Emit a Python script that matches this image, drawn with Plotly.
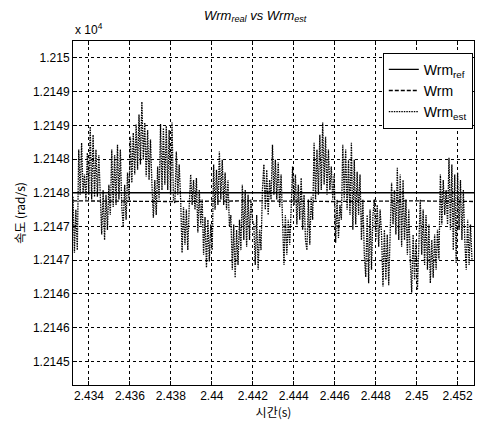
import numpy as np
import plotly.graph_objects as go

# ---- data ----
t_start, t_end = 2.43322, 2.45270

wrm_ref_t = [2.43322, 2.45280]
wrm_ref_v = [12148.0, 12148.0]

wrm_t = [2.43322, 2.4380, 2.4420, 2.4460, 2.4500, 2.45280]
wrm_v = [12147.88, 12147.87, 12147.88, 12147.87, 12147.88, 12147.87]

wrm_est_v = [
    12147.94, 12147.11, 12147.75, 12147.15, 12148.64, 12147.97, 12148.74, 12148.00,
    12148.27, 12147.90, 12148.59, 12147.97, 12148.98, 12147.90, 12148.86, 12147.94,
    12148.64, 12147.94, 12148.56, 12147.90, 12147.38, 12148.04, 12147.30, 12147.97,
    12147.45, 12148.12, 12147.67, 12148.64, 12147.79, 12148.56, 12147.82, 12148.71,
    12147.90, 12148.64, 12147.79, 12147.50, 12148.12, 12147.60, 12148.30, 12147.90,
    12148.83, 12148.15, 12148.89, 12148.27, 12149.01, 12148.34, 12149.16, 12148.42,
    12149.35, 12148.49, 12149.04, 12148.24, 12148.93, 12148.19, 12148.79, 12148.12,
    12147.63, 12148.19, 12147.67, 12148.39, 12147.90, 12149.02, 12148.04, 12148.96,
    12148.12, 12148.99, 12148.04, 12148.93, 12147.97, 12149.04, 12147.90, 12147.85,
    12148.61, 12147.97, 12148.42, 12147.90, 12147.11, 12147.79, 12147.23, 12147.75,
    12147.15, 12147.82, 12148.27, 12147.82, 12148.19, 12147.75, 12148.22, 12147.41,
    12148.04, 12147.53, 12147.90, 12147.08, 12147.64, 12146.89, 12147.60, 12146.98,
    12147.53, 12147.15, 12148.42, 12147.75, 12148.34, 12147.82, 12148.61, 12147.90,
    12148.49, 12147.82, 12148.30, 12147.75, 12148.19, 12147.50, 12147.67, 12146.86,
    12147.53, 12146.74, 12147.45, 12146.93, 12147.60, 12147.15, 12148.12, 12147.30,
    12148.04, 12147.20, 12147.97, 12147.30, 12147.90, 12147.60, 12147.53, 12146.93,
    12147.67, 12146.86, 12147.45, 12147.15, 12148.04, 12148.42, 12147.75, 12148.34,
    12147.67, 12148.19, 12147.90, 12148.71, 12147.97, 12148.49, 12147.90, 12148.45,
    12147.79, 12148.27, 12147.67, 12146.93, 12147.67, 12147.08, 12147.60, 12147.23,
    12147.75, 12148.39, 12147.82, 12148.27, 12147.53, 12148.12, 12147.60, 12148.22,
    12147.45, 12147.97, 12147.30, 12147.15, 12147.90, 12147.23, 12147.94, 12147.60,
    12148.74, 12147.90, 12148.64, 12147.97, 12148.86, 12148.04, 12149.04, 12148.12,
    12148.83, 12147.97, 12148.64, 12148.04, 12148.39, 12147.90, 12148.27, 12147.26,
    12147.90, 12147.33, 12147.82, 12147.60, 12148.71, 12147.90, 12148.64, 12147.75,
    12148.49, 12147.67, 12148.74, 12147.45, 12148.49, 12147.53, 12148.31, 12147.67,
    12148.27, 12147.30, 12147.90, 12147.08, 12146.75, 12147.67, 12146.66, 12147.75,
    12146.86, 12147.67, 12147.90, 12147.30, 12147.82, 12147.20, 12147.75, 12147.38,
    12146.61, 12147.45, 12146.71, 12147.38, 12146.63, 12147.30, 12148.15, 12147.53,
    12148.04, 12147.38, 12148.37, 12147.30, 12148.27, 12147.20, 12148.19, 12147.30,
    12147.90, 12147.08, 12147.75, 12147.01, 12146.52, 12147.38, 12146.71, 12147.30,
    12146.56, 12147.23, 12147.90, 12147.08, 12147.75, 12146.93, 12147.67, 12146.86,
    12147.53, 12146.66, 12147.30, 12146.74, 12147.38, 12146.86, 12147.45, 12147.01,
    12148.27, 12147.53, 12148.19, 12147.67, 12148.04, 12147.53, 12148.52, 12147.45,
    12148.42, 12147.15, 12148.27, 12146.96, 12148.30, 12147.45, 12148.19, 12147.30,
    12148.04, 12147.30, 12146.86, 12147.60, 12146.93, 12147.53, 12147.01,
]
wrm_est_t = np.linspace(t_start, t_end, len(wrm_est_v))

x_tick_vals = [2.434, 2.436, 2.438, 2.440, 2.442, 2.444, 2.446, 2.448, 2.450, 2.452]
x_tick_text = ["2.434", "2.436", "2.438", "2.44", "2.442", "2.444", "2.446", "2.448", "2.45", "2.452"]
y_tick_vals = [12150.0, 12149.5, 12149.0, 12148.5, 12148.0, 12147.5, 12147.0, 12146.5, 12146.0, 12145.5]
y_tick_text = ["1.215", "1.2149", "1.2149", "1.2148", "1.2148", "1.2147", "1.2147", "1.2146", "1.2146", "1.2145"]

FONT = "Liberation Sans, Arial, sans-serif"
KFONT = "Noto Sans CJK KR, sans-serif"

fig = go.Figure()
fig.add_trace(go.Scatter(x=wrm_ref_t, y=wrm_ref_v, mode="lines", name="Wrm<sub>ref</sub>",
                         line=dict(color="black", width=1.3)))
fig.add_trace(go.Scatter(x=wrm_t, y=wrm_v, mode="lines", name="Wrm",
                         line=dict(color="black", width=1.3, dash="4px,2px")))
fig.add_trace(go.Scatter(x=wrm_est_t, y=wrm_est_v, mode="lines", name="Wrm<sub>est</sub>",
                         line=dict(color="black", width=1.3, dash="1.5px,1px")))

axis_common = dict(
    showline=True, linecolor="black", linewidth=1, mirror="allticks",
    ticks="inside", ticklen=4, tickcolor="black",
    showgrid=True, gridcolor="black", gridwidth=1, griddash="3px,3px",
    zeroline=False, tickfont=dict(family=FONT, size=12, color="black"),
)

fig.update_layout(
    width=477, height=423,
    margin=dict(l=73, r=3, t=41, b=38),
    paper_bgcolor="white", plot_bgcolor="white",
    font=dict(family=FONT, size=12, color="black"),
    showlegend=True,
    legend=dict(x=0.997, y=0.966, xanchor="right", yanchor="top",
                bgcolor="white", bordercolor="black", borderwidth=1,
                font=dict(family=FONT, size=14, color="black"),
                tracegroupgap=0, itemwidth=30),
    title=dict(text="<i>Wrm</i><sub><i>real</i></sub><i> vs Wrm</i><sub><i>est</i></sub>",
               x=0.535, xanchor="center", y=0.975, yanchor="top",
               font=dict(family=FONT, size=13, color="black")),
)
fig.update_xaxes(range=[2.43322, 2.4528], tickvals=x_tick_vals, ticktext=x_tick_text,
                 title=dict(text="시간(s)", standoff=2,
                            font=dict(family=KFONT, size=12, color="black")),
                 **axis_common)
fig.update_yaxes(range=[12145.15, 12150.25], tickvals=y_tick_vals, ticktext=y_tick_text,
                 title=dict(text="속도 (rad/s)", standoff=4,
                            font=dict(family=KFONT, size=12, color="black")),
                 **axis_common)
fig.add_annotation(text="x 10<sup>4</sup>", xref="paper", yref="paper", x=0.0, y=1.0,
                   xanchor="left", yanchor="bottom", showarrow=False, yshift=2,
                   font=dict(family=FONT, size=12, color="black"))

fig.write_html("out.html")
